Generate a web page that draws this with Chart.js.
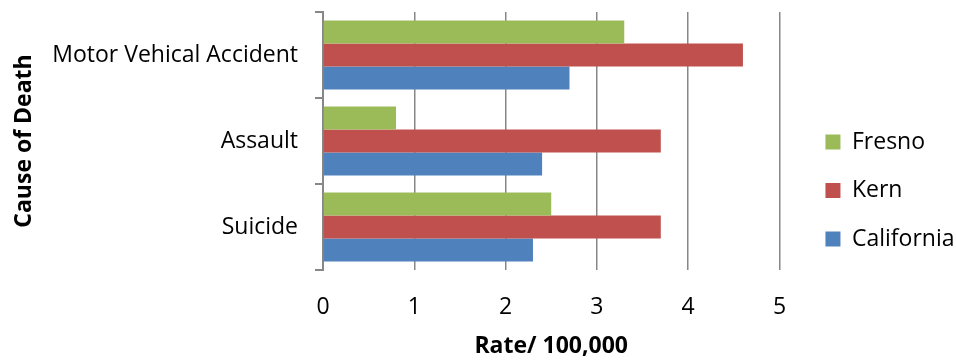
<!DOCTYPE html>
<html>
<head>
<meta charset="utf-8">
<script src="https://cdn.jsdelivr.net/npm/chart.js@4/dist/chart.umd.min.js"></script>
<style>
  html, body { margin: 0; padding: 0; background: #ffffff; }
  #wrap { width: 956px; height: 360px; }
</style>
</head>
<body>
<div id="wrap"><canvas id="chart" width="956" height="360"></canvas></div>
<script>
// Causes of death, listed top to bottom
const causes = ['Motor Vehical Accident', 'Assault', 'Suicide'];

// Rate per 100,000 for each area
const fresno = [3.3, 0.8, 2.5];
const kern = [4.6, 3.7, 3.7];
const california = [2.7, 2.4, 2.3];

// Rate axis ticks
const rateTicks = [0, 1, 2, 3, 4, 5];

const FONT = '"Open Sans", "Liberation Sans", sans-serif';
const SIZE = 23;
const GRID = '#878787';

// Nudges the legend block away from the plot area after layout
const legendNudge = {
  id: 'legendNudge',
  afterLayout(chart, args, opts) {
    const lg = chart.legend;
    if (!lg) return;
    lg.left += opts.dx; lg.right += opts.dx;
    lg.top += opts.dy; lg.bottom += opts.dy;
  }
};

new Chart(document.getElementById('chart'), {
  type: 'bar',
  data: {
    labels: causes,
    datasets: [
      { label: 'Fresno', data: fresno, backgroundColor: '#9BBB59' },
      { label: 'Kern', data: kern, backgroundColor: '#C0504D' },
      { label: 'California', data: california, backgroundColor: '#4F81BD' }
    ]
  },
  plugins: [legendNudge],
  options: {
    indexAxis: 'y',
    responsive: false,
    animation: false,
    events: [],
    categoryPercentage: 0.8,
    barPercentage: 1.0,
    layout: { padding: { left: 0, right: 12, top: 12, bottom: 0 } },
    plugins: {
      tooltip: { enabled: false },
      legendNudge: { dx: 20.5, dy: 4.5 },
      legend: {
        position: 'right',
        labels: {
          color: '#000000',
          font: { family: FONT, size: SIZE },
          boxWidth: 15,
          boxHeight: 15,
          padding: 25.5
        }
      }
    },
    scales: {
      x: {
        min: 0,
        max: 5,
        afterBuildTicks: (axis) => { axis.ticks = rateTicks.map(v => ({ value: v })); },
        afterFit: (axis) => { axis.height = 90; axis.paddingLeft = 0; axis.paddingRight = 0; },
        border: { display: false },
        grid: { color: GRID, lineWidth: 1.5, drawTicks: false },
        ticks: {
          color: '#000000',
          font: { family: FONT, size: SIZE },
          padding: 24
        },
        title: {
          display: true,
          text: 'Rate/ 100,000',
          color: '#000000',
          font: { family: FONT, size: SIZE, weight: 'bold' },
          padding: { top: -4, bottom: 0 }
        }
      },
      y: {
        afterFit: (axis) => { axis.width = 323; axis.paddingTop = 0; axis.paddingBottom = 0; },
        border: { display: true, color: GRID, width: 2 },
        grid: {
          offset: true,
          drawOnChartArea: false,
          drawTicks: true,
          tickLength: 8,
          color: GRID,
          lineWidth: 2
        },
        ticks: {
          color: '#000000',
          font: { family: FONT, size: SIZE },
          padding: 17
        },
        title: {
          display: true,
          text: 'Cause of Death',
          color: '#000000',
          font: { family: FONT, size: SIZE, weight: 'bold' },
          padding: { top: 10.5, bottom: 0 }
        }
      }
    }
  }
});
</script>
</body>
</html>
